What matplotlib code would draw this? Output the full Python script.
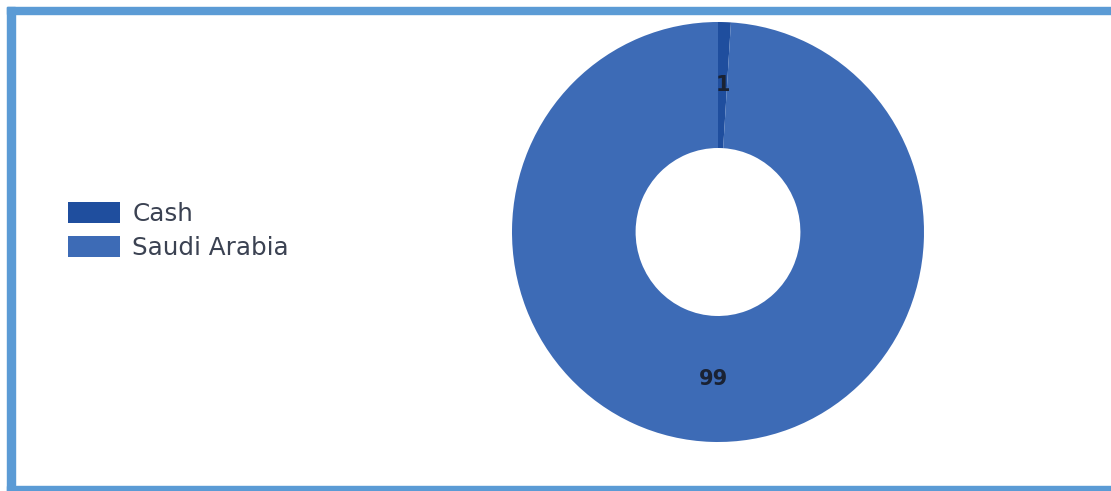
import matplotlib.pyplot as plt
from matplotlib.patches import Rectangle

# данные
labels = ['Cash', 'Saudi Arabia']
values = [1, 99]
colors = ['#1f4e9e', '#3d6bb6']

W, H = 1111, 491
fig = plt.figure(figsize=(W / 100, H / 100), dpi=100)
fig.patch.set_facecolor('white')

# кольцевая диаграмма
ax = fig.add_axes([512 / W, 49 / H, 412 / W, 420 / H])
wedges, texts, autotexts = ax.pie(
    values, colors=colors, startangle=90, counterclock=False,
    radius=1, wedgeprops=dict(width=0.6, linewidth=0),
    autopct=lambda p: f'{p:.0f}', pctdistance=0.7,
    textprops=dict(fontsize=15, fontweight='bold', color='#1a2233'))
ax.set_aspect('auto')
ax.set_xlim(-1, 1)
ax.set_ylim(-1, 1)

# легенда
fig.legend(wedges, labels, loc='center left',
           bbox_to_anchor=(68 / W, (H - 231) / H),
           frameon=False, fontsize=17.7, labelcolor='#3b4252',
           handlelength=2.1, handleheight=0.93, handletextpad=0.52,
           labelspacing=0.42, borderpad=0, borderaxespad=0)

# голубая рамка
frame_color = '#5b9bd5'
fig.patches.append(Rectangle((7 / W, 477 / H), 1 - 7 / W, 7 / H,
                             transform=fig.transFigure, color=frame_color))
fig.patches.append(Rectangle((7 / W, 0), 8 / W, 484 / H,
                             transform=fig.transFigure, color=frame_color))
fig.patches.append(Rectangle((7 / W, 0), 1 - 7 / W, 5 / H,
                             transform=fig.transFigure, color=frame_color))

fig.savefig('out.png', dpi=100)
